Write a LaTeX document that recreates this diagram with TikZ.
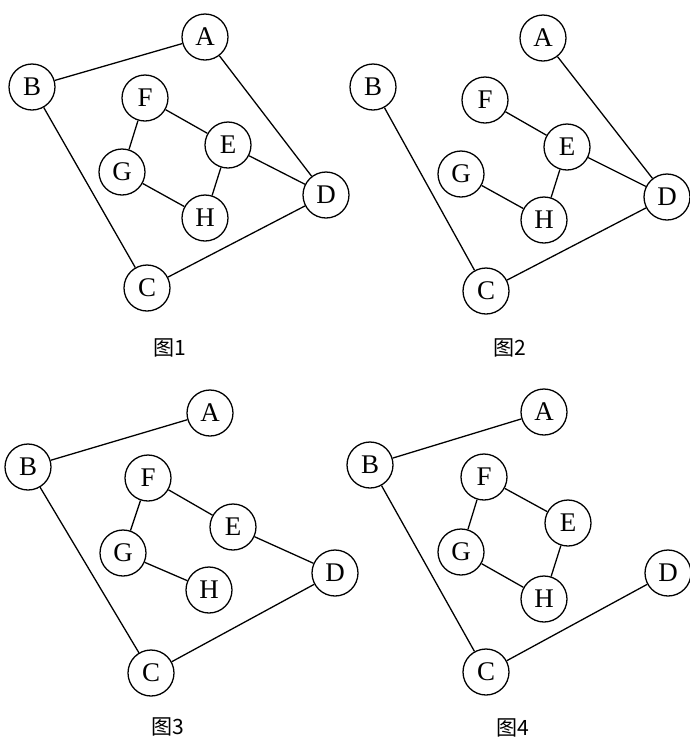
\documentclass[tikz,border=0pt]{standalone}
\usepackage{fontspec}
\setmainfont{Liberation Serif}
\newfontfamily\cjk{Noto Sans CJK SC}
\usepackage{tikz}

\begin{document}
\begin{tikzpicture}[
  x=0.03cm, y=-0.03cm,
  vertex/.style={circle, draw, line width=1.1pt, minimum size=1.38cm, inner sep=0pt, font=\fontsize{23}{23}\selectfont},
  caption/.style={font=\cjk\fontsize{18}{18}\selectfont},
  edge/.style={draw, line width=1.1pt}]
\useasboundingbox (0,0) rectangle (690,742);
% graph 1
\node[vertex] (a1) at (205,37) {A};
\node[vertex] (b1) at (32,87) {B};
\node[vertex] (f1) at (145,98) {F};
\node[vertex] (e1) at (228,145) {E};
\node[vertex] (g1) at (122,172) {G};
\node[vertex] (d1) at (326,195) {D};
\node[vertex] (h1) at (205,218) {H};
\node[vertex] (c1) at (147,288) {C};
\node[caption] (t1) at (170,348) {图1};
\draw[edge] (a1) -- (b1); \draw[edge] (a1) -- (d1); \draw[edge] (b1) -- (c1); \draw[edge] (c1) -- (d1);
\draw[edge] (f1) -- (g1); \draw[edge] (f1) -- (e1); \draw[edge] (e1) -- (h1); \draw[edge] (g1) -- (h1); \draw[edge] (e1) -- (d1);
% graph 2
\node[vertex] (a2) at (543,38) {A};
\node[vertex] (b2) at (373,87) {B};
\node[vertex] (f2) at (485,100) {F};
\node[vertex] (e2) at (567,147) {E};
\node[vertex] (g2) at (461,174) {G};
\node[vertex] (d2) at (667,197) {D};
\node[vertex] (h2) at (544,220) {H};
\node[vertex] (c2) at (486,291) {C};
\node[caption] (t2) at (510,348) {图2};
\draw[edge] (a2) -- (d2); \draw[edge] (b2) -- (c2); \draw[edge] (c2) -- (d2);
\draw[edge] (f2) -- (e2); \draw[edge] (e2) -- (h2); \draw[edge] (g2) -- (h2); \draw[edge] (e2) -- (d2);
% graph 3
\node[vertex] (a3) at (210,413) {A};
\node[vertex] (b3) at (28,467) {B};
\node[vertex] (f3) at (148,478) {F};
\node[vertex] (e3) at (233,527) {E};
\node[vertex] (g3) at (123,553) {G};
\node[vertex] (d3) at (335,573) {D};
\node[vertex] (h3) at (209,590) {H};
\node[vertex] (c3) at (151,673) {C};
\node[caption] (t3) at (168,727) {图3};
\draw[edge] (a3) -- (b3); \draw[edge] (b3) -- (c3); \draw[edge] (c3) -- (d3);
\draw[edge] (f3) -- (g3); \draw[edge] (f3) -- (e3); \draw[edge] (e3) -- (d3); \draw[edge] (g3) -- (h3);
% graph 4
\node[vertex] (a4) at (544,412) {A};
\node[vertex] (b4) at (370,465) {B};
\node[vertex] (f4) at (484,477) {F};
\node[vertex] (e4) at (568,523) {E};
\node[vertex] (g4) at (461,552) {G};
\node[vertex] (d4) at (668,573) {D};
\node[vertex] (h4) at (544,599) {H};
\node[vertex] (c4) at (486,672) {C};
\node[caption] (t4) at (513,728) {图4};
\draw[edge] (a4) -- (b4); \draw[edge] (b4) -- (c4); \draw[edge] (c4) -- (d4);
\draw[edge] (f4) -- (g4); \draw[edge] (f4) -- (e4); \draw[edge] (e4) -- (h4); \draw[edge] (g4) -- (h4);
\end{tikzpicture}
\end{document}
